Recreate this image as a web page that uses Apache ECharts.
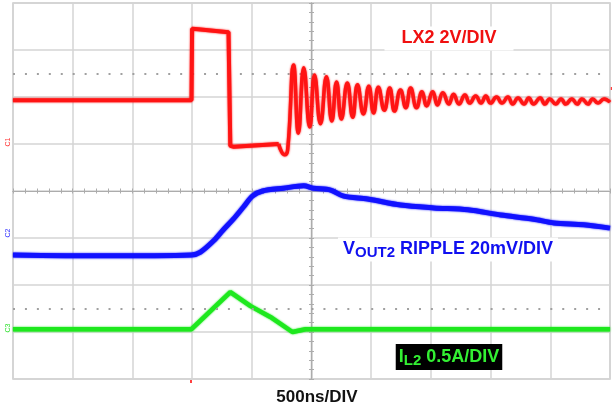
<!DOCTYPE html>
<html>
<head>
<meta charset="utf-8">
<script src="https://cdn.jsdelivr.net/npm/echarts@6/dist/echarts.min.js"></script>
<style>
html, body { margin: 0; padding: 0; background: #fff; }
#chart { width: 612px; height: 416px; }
</style>
</head>
<body>
<div id="chart"></div>
<script>
// x in divisions (500ns/DIV), 0 = screen centre; y in divisions, 0 = centre line

// LX2 switch node - pulse and low plateau
const lxStepT = [-5.00, -2.01, -2.00, -1.90, -1.39, -1.36, -1.30, -0.55]
const lxStepV = [1.93, 1.93, 3.45, 3.44, 3.38, 0.96, 0.94, 1.00]

// LX2 dip and ringing (peaks / troughs)
const lxRingT = [-0.55, -0.50, -0.45, -0.40,
  -0.30, -0.22, -0.13, -0.03, 0.05, 0.15, 0.25, 0.34, 0.42, 0.50,
  0.60, 0.69, 0.77, 0.87, 0.96, 1.04, 1.12, 1.22, 1.31, 1.39,
  1.49, 1.58, 1.66, 1.76, 1.85, 1.93, 2.03, 2.11, 2.20, 2.30,
  2.38, 2.47, 2.57, 2.65, 2.75, 2.84, 2.92, 3.00, 3.10, 3.19,
  3.29, 3.37, 3.46, 3.56, 3.64, 3.72, 3.83, 3.91, 3.99, 4.09,
  4.18, 4.26, 4.36, 4.45, 4.53, 4.63, 4.71, 4.80, 4.90, 5.00]
const lxRingV = [1.00, 0.83, 0.77, 0.87,
  2.68, 1.23, 2.62, 1.36, 2.47, 1.43, 2.43, 1.49, 2.32, 1.53,
  2.30, 1.57, 2.26, 1.64, 2.23, 1.66, 2.21, 1.72, 2.19, 1.70,
  2.15, 1.77, 2.19, 1.77, 2.11, 1.81, 2.11, 1.83, 2.09, 1.85,
  2.06, 1.85, 2.04, 1.87, 2.02, 1.87, 2.02, 1.87, 2.00, 1.87,
  2.00, 1.85, 1.98, 1.85, 1.98, 1.85, 1.98, 1.85, 1.96, 1.85,
  1.96, 1.85, 1.96, 1.85, 1.96, 1.85, 1.96, 1.87, 1.96, 1.89]

// VOUT2 ripple
const voutT = [-5.00, -3.54, -2.01, -1.86, -1.64, -1.48, -1.31, -1.14, -0.99, -0.82,
  -0.47, -0.13, 0.03, 0.32, 0.54, 0.94, 1.49, 2.05, 2.62, 3.17, 3.72, 4.06, 4.56, 5.00]
const voutV = [-1.36, -1.38, -1.36, -1.30, -1.06, -0.83, -0.60, -0.34, -0.11, 0.00,
  0.06, 0.11, 0.06, 0.02, -0.11, -0.17, -0.30, -0.36, -0.40, -0.51, -0.60, -0.68, -0.72, -0.79]

// IL2 inductor current
const ilT = [-5.00, -2.01, -1.36, -1.02, -0.69, -0.32, -0.10, 5.00]
const ilV = [-2.94, -2.94, -2.15, -2.45, -2.68, -3.00, -2.94, -2.94]

// dotted reference levels
const dotLevels = [2.5, -2.5]

const zip = (t, v) => t.map((x, i) => [x, v[i]])

const FONT = '"Liberation Sans", Arial, sans-serif'
const gridColor = '#d4d4d4'
const axisColor = '#acacac'

const centreAxis = (pos, dim) => ({
  type: 'value',
  position: pos,
  min: dim === 'x' ? -5 : -4,
  max: dim === 'x' ? 5 : 4,
  interval: 1,
  axisLine: { show: true, onZero: true, onZeroAxisIndex: 0, lineStyle: { color: axisColor, width: 1.2 } },
  axisTick: { show: true, inside: false, length: 2.5, lineStyle: { color: axisColor } },
  minorTick: { show: true, splitNumber: 5, length: 2.5, lineStyle: { color: axisColor } },
  axisLabel: { show: false },
  splitLine: { show: pos === 'bottom' || pos === 'left', lineStyle: { color: gridColor, width: 1.5 } }
})

const traceStyle = (color, width) => ({
  color: color,
  width: width,
  shadowColor: color,
  shadowBlur: 2
})

const chart = echarts.init(document.getElementById('chart'), null, { renderer: 'canvas' })

chart.setOption({
  backgroundColor: '#fff',
  animation: false,
  grid: {
    left: 13, top: 3, width: 597, height: 376,
    show: true, borderColor: '#cbcbcb', borderWidth: 1.5, backgroundColor: '#fff'
  },
  xAxis: [centreAxis('bottom', 'x'), centreAxis('top', 'x')],
  yAxis: [centreAxis('left', 'y'), centreAxis('right', 'y')],
  series: [
    {
      type: 'line', data: zip(ilT, ilV), symbol: 'none', silent: true,
      lineStyle: traceStyle('#1ee81e', 4.5), z: 3,
      markLine: {
        silent: true, symbol: 'none', label: { show: false },
        lineStyle: { color: '#a0a0a0', width: 2, type: [2, 9.94] },
        data: dotLevels.map(v => [{ coord: [-5, v] }, { coord: [5, v] }])
      }
    },
    {
      type: 'line', data: zip(voutT, voutV), symbol: 'none', silent: true,
      smooth: 0.3, lineStyle: traceStyle('#1212ff', 5), z: 4
    },
    {
      type: 'line', data: zip(lxStepT, lxStepV), symbol: 'none', silent: true,
      lineStyle: traceStyle('#ff1414', 4), z: 5
    },
    {
      type: 'line', data: zip(lxRingT, lxRingV), symbol: 'none', silent: true,
      smooth: 0.5, lineStyle: traceStyle('#ff1414', 3.5), z: 5
    }
  ],
  graphic: [
    {
      type: 'text', x: 449, y: 38.5, z: 100,
      style: {
        text: 'LX2 2V/DIV', fill: '#f01010',
        font: 'bold 18px ' + FONT, align: 'center', verticalAlign: 'middle',
        backgroundColor: '#fff', padding: [3, 17]
      }
    },
    {
      type: 'text', x: 448, y: 249.5, z: 100,
      style: {
        text: '{a|V}{b|OUT2}{a| RIPPLE 20mV/DIV}',
        fill: '#1010f0', align: 'center', verticalAlign: 'middle',
        backgroundColor: '#fff', padding: [1, 5],
        rich: {
          a: { fontSize: 18, fontWeight: 'bold', fontFamily: FONT, fill: '#1010f0', lineHeight: 22 },
          b: { fontSize: 15, fontWeight: 'bold', fontFamily: FONT, fill: '#1010f0', lineHeight: 14, verticalAlign: 'bottom' }
        }
      }
    },
    {
      type: 'text', x: 449, y: 357, z: 100,
      style: {
        text: '{a|I}{b|L2}{a| 0.5A/DIV}',
        fill: '#33f033', align: 'center', verticalAlign: 'middle',
        backgroundColor: '#000', padding: [2, 3],
        rich: {
          a: { fontSize: 18, fontWeight: 'bold', fontFamily: FONT, fill: '#33f033', lineHeight: 22 },
          b: { fontSize: 15, fontWeight: 'bold', fontFamily: FONT, fill: '#33f033', lineHeight: 14, verticalAlign: 'bottom' }
        }
      }
    },
    {
      type: 'text', x: 317, y: 397, z: 100,
      style: {
        text: '500ns/DIV', fill: '#111',
        font: 'bold 17px ' + FONT, align: 'center', verticalAlign: 'middle'
      }
    },
    // channel markers on the left edge
    { type: 'text', x: 8, y: 142, rotation: Math.PI / 2, style: { text: 'C1', fill: '#ff3030', font: '7px ' + FONT, align: 'center', verticalAlign: 'middle' } },
    { type: 'text', x: 8, y: 233, rotation: Math.PI / 2, style: { text: 'C2', fill: '#3030ff', font: '7px ' + FONT, align: 'center', verticalAlign: 'middle' } },
    { type: 'text', x: 8, y: 328, rotation: Math.PI / 2, style: { text: 'C3', fill: '#30e030', font: '7px ' + FONT, align: 'center', verticalAlign: 'middle' } },
    // trigger markers
    { type: 'rect', shape: { x: 190, y: 380, width: 2, height: 3 }, style: { fill: '#ff4040' } },
    { type: 'rect', shape: { x: 610, y: 87, width: 2, height: 3 }, style: { fill: '#ff4040' } }
  ]
})
</script>
</body>
</html>
